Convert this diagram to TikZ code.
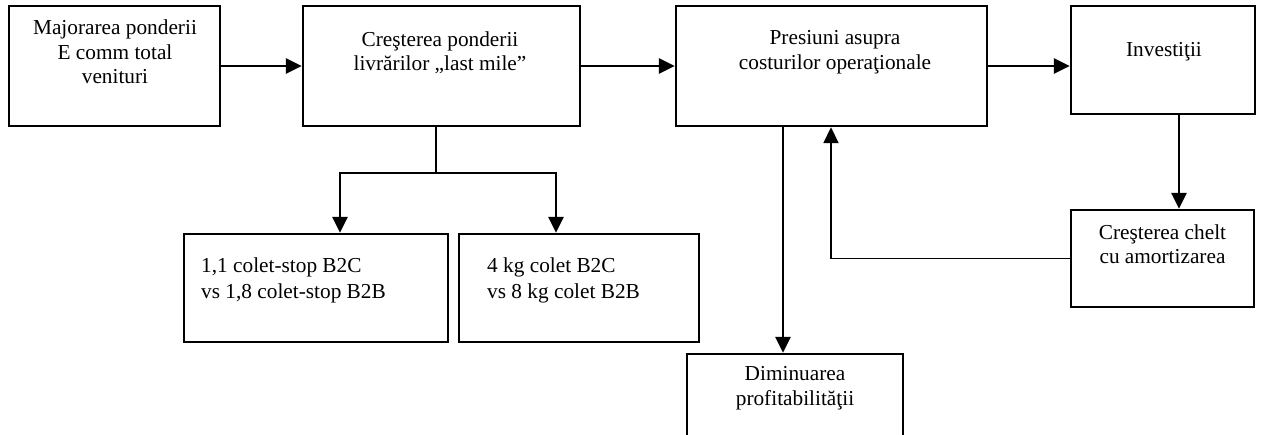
\documentclass[tikz,border=0pt]{standalone}
\usepackage{fontspec}
\setmainfont{Liberation Serif}
\usetikzlibrary{arrows.meta}

\tikzset{
  box/.style={draw, line width=2.4pt, inner sep=0pt, fill=white},
  txt/.style={align=center, inner sep=0pt, font=\fontsize{21.3}{24.5}\selectfont},
  ltxt/.style={align=left, inner sep=0pt, font=\fontsize{21.3}{26}\selectfont},
  arr/.style={line width=2.6pt, -{Triangle[length=16pt,width=15pt]}},
  thin/.style={line width=1.9pt},
  thinarr/.style={line width=1.9pt, -{Triangle[length=16pt,width=15pt]}}
}

\begin{document}
\begin{tikzpicture}[x=1pt, y=-1pt]
  \useasboundingbox (0,0) rectangle (1261,434);
  \fill[white] (0,0) rectangle (1261,434);
  \clip (0,0) rectangle (1261,434);

  % boxes (centre, width, height in pixels)
  \node[box, minimum width=211pt, minimum height=120pt] (A) at (114.5,66) {};
  \node[box, minimum width=277pt, minimum height=120pt] (B) at (441.5,66) {};
  \node[box, minimum width=311pt, minimum height=120pt] (C) at (831.5,66) {};
  \node[box, minimum width=184pt, minimum height=108pt] (D) at (1163,60) {};
  \node[box, minimum width=183pt, minimum height=97pt]  (E) at (1162.5,258.5) {};
  \node[box, minimum width=264pt, minimum height=108pt] (F) at (316,288) {};
  \node[box, minimum width=240pt, minimum height=108pt] (G) at (579,288) {};
  \node[box, minimum width=216pt, minimum height=116pt] (H) at (795,412) {};

  % texts
  \node[txt] (tA) at (115,52) {Majorarea ponderii\\E comm total\\venituri};
  \node[txt] (tB) at (440,52.5) {Creşterea ponderii\\livrărilor „last mile”};
  \node[txt] (tC) at (835,52) {Presiuni asupra\\costurilor operaţionale};
  \node[txt] (tD) at (1164,52) {Investiţii};
  \node[txt] (tE) at (1162.5,244) {Creşterea chelt\\cu amortizarea};
  \node[ltxt, anchor=west] (tF) at (201,280) {1,1 colet-stop B2C\\vs 1,8 colet-stop B2B};
  \node[ltxt, anchor=west] (tG) at (487,280) {4 kg colet B2C\\vs 8 kg colet B2B};
  \node[txt] (tH) at (795,388) {Diminuarea\\profitabilităţii};

  % helper coordinates for connector positions
  \coordinate (split) at (436,173);
  \coordinate (fx) at (340,0);
  \coordinate (gx) at (556,0);
  \coordinate (hx) at (783,0);
  \coordinate (ux) at (831,0);
  \coordinate (dx) at (1179,0);

  % main chain
  \draw[arr] (A.east) -- (B.west);
  \draw[arr] (B.east) -- (C.west);
  \draw[arr] (C.east) -- (C.east -| D.west);

  % branch below the second box
  \draw[thin] (split |- B.south) -- (split);
  \draw[arr] (split) -| (fx |- F.north);
  \draw[arr] (split) -| (gx |- G.north);

  % operating costs to profitability
  \draw[arr] (hx |- C.south) -- (hx |- H.north);

  % investments loop
  \draw[arr] (dx |- D.south) -- (dx |- E.north);
  \draw[thinarr] (E.west) -| (ux |- C.south);
\end{tikzpicture}
\end{document}
